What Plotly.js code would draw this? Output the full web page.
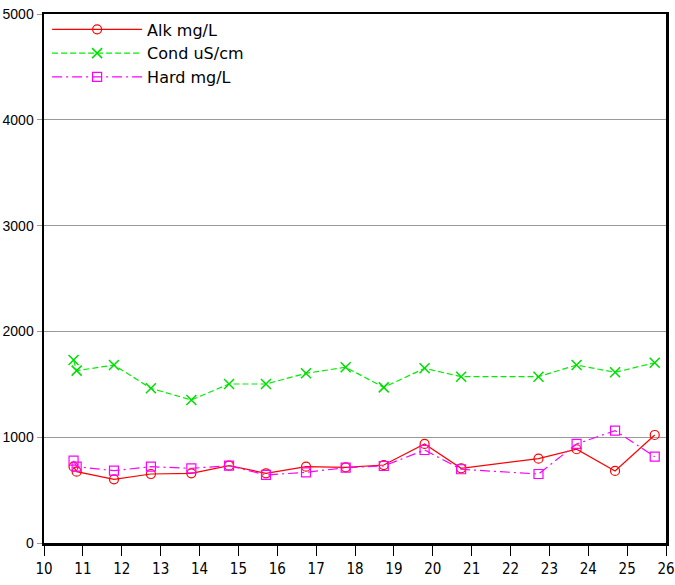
<!DOCTYPE html>
<html>
<head>
<meta charset="utf-8">
<script src="https://cdn.plot.ly/plotly-3.0.1.min.js"></script>
<style>html,body{margin:0;padding:0;background:#fff;}#chart{width:675px;height:585px;}</style>
</head>
<body>
<div id="chart"></div>
<script>
var xAlk = [10.76, 10.84, 11.80, 12.75, 13.79, 14.76, 15.71, 16.74, 17.76, 18.74, 19.79, 20.73, 22.72, 23.70, 24.69, 25.71];
var alk  = [721, 674, 602, 652, 659, 731, 659, 721, 715, 737, 936, 706, 797, 886, 681, 1021];
var xCond = [10.76, 10.84, 11.80, 12.75, 13.79, 14.76, 15.71, 16.74, 17.76, 18.74, 19.79, 20.73, 22.72, 23.70, 24.69, 25.71];
var cond = [1730, 1629, 1682, 1462, 1352, 1503, 1503, 1604, 1661, 1471, 1651, 1572, 1572, 1682, 1613, 1704];
var xHard = [10.76, 10.84, 11.80, 12.75, 13.79, 14.76, 15.71, 16.74, 17.76, 18.74, 19.79, 20.73, 22.72, 23.70, 24.69, 25.71];
var hard = [778, 721, 684, 721, 706, 731, 643, 668, 712, 728, 879, 697, 652, 936, 1062, 816];
var seriesNames = ['Alk mg/L', 'Cond uS/cm', 'Hard mg/L'];
var xTicks = [10,11,12,13,14,15,16,17,18,19,20,21,22,23,24,25,26];
var yTicks = [0,1000,2000,3000,4000,5000];

var traces = [
  {x: xAlk, y: alk, name: seriesNames[0], mode: 'lines+markers', type: 'scatter',
   line: {color: '#ff0000', width: 1.2},
   marker: {symbol: 'circle-open', size: 9, color: '#ff0000', line: {width: 1.2, color: '#ff0000'}}},
  {x: xCond, y: cond, name: seriesNames[1], mode: 'lines+markers', type: 'scatter',
   line: {color: '#00ee00', width: 1.2, dash: '6px,3px'},
   marker: {symbol: 'x-thin-open', size: 10, color: '#00dd00', line: {width: 1.5, color: '#00dd00'}}},
  {x: xHard, y: hard, name: seriesNames[2], mode: 'lines+markers', type: 'scatter',
   line: {color: '#ff00ff', width: 1.2, dash: '10px,4px,2px,4px'},
   marker: {symbol: 'square-open', size: 9, color: '#ff00ff', line: {width: 1.2, color: '#ff00ff'}}}
];

var layout = {
  width: 675, height: 585,
  margin: {l: 44, r: 9, t: 14, b: 42},
  paper_bgcolor: '#ffffff', plot_bgcolor: '#ffffff',
  showlegend: true,
  legend: {x: 0.005, y: 1.003, xanchor: 'left', yanchor: 'top', bgcolor: 'rgba(0,0,0,0)',
           font: {family: 'DejaVu Sans', size: 16, color: '#000'}, tracegroupgap: 0, itemwidth: 90},
  xaxis: {range: [10, 26], tickvals: xTicks, ticktext: xTicks.map(String),
          showgrid: false, zeroline: false, showline: true, linecolor: '#000', linewidth: 2.5, mirror: true,
          ticks: 'outside', ticklen: 10, tickcolor: '#000', tickwidth: 1, ticklabeloverflow: 'allow',
          tickfont: {family: 'DejaVu Sans Condensed, Liberation Sans Narrow, sans-serif', size: 15, color: '#000'}},
  yaxis: {range: [0, 5000], tickvals: yTicks, ticktext: yTicks.map(String),
          showgrid: true, gridcolor: '#999', gridwidth: 1.3, zeroline: false,
          showline: true, linecolor: '#000', linewidth: 2.5, mirror: true,
          ticks: 'outside', ticklen: 5, tickcolor: '#999', tickwidth: 1, ticklabeloverflow: 'allow',
          tickfont: {family: 'Liberation Sans, Arial, sans-serif', size: 14, color: '#000'}}
};

Plotly.newPlot('chart', traces, layout, {displayModeBar: false, staticPlot: true});
</script>
</body>
</html>
